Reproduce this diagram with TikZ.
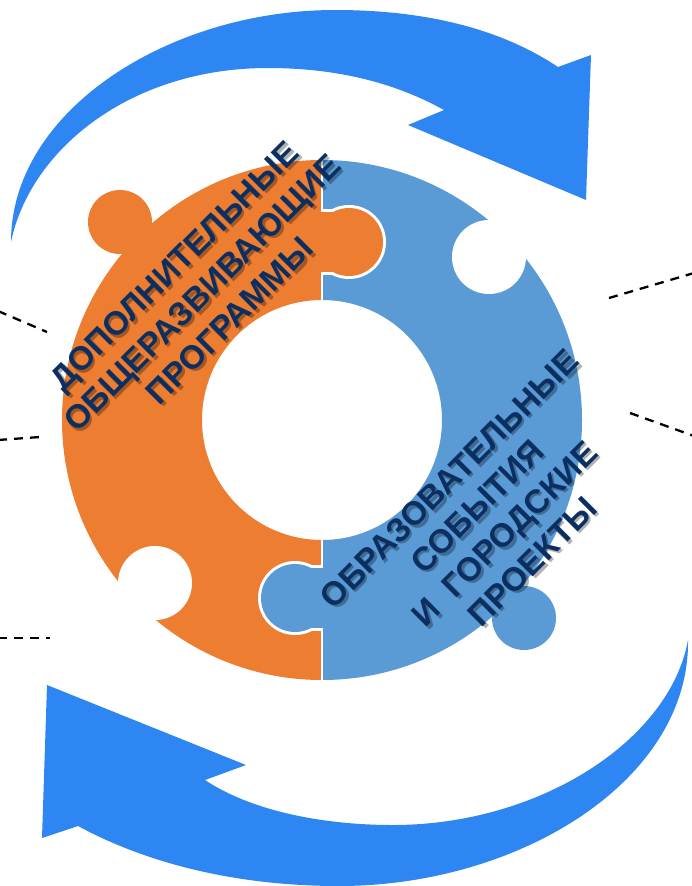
\documentclass[tikz,border=0pt]{standalone}
\usepackage{fontspec}
\setmainfont{Liberation Sans}
\definecolor{orng}{RGB}{237,125,49}
\definecolor{ringblue}{RGB}{91,155,213}
\definecolor{arrowblue}{RGB}{46,134,242}
\definecolor{navy}{RGB}{12,47,98}
\begin{document}
\begin{tikzpicture}[x=1pt,y=-1pt,
  lbl/.style={font=\fontsize{33}{39}\selectfont\bfseries, text=navy, align=center, rotate=45, inner sep=0pt},
  shadowlbl/.style={lbl, text=black, text opacity=0.3},
  dashline/.style={draw=black, line width=2.3pt, dash pattern=on 9pt off 7pt},
  bigarrow/.style={fill=arrowblue}]
\useasboundingbox (0,0) rectangle (692,886);
\coordinate (C) at (322,420);

% ---- top curved arrow ----
\fill[bigarrow] (11,242) .. controls (11,110) and (170,10) .. (335,10)
  .. controls (440,10) and (510,35) .. (558,67)
  -- (591,55) -- (586,200) -- (408,125) -- (444,110)
  .. controls (390,80) and (330,68) .. (268,68)
  .. controls (130,68) and (30,150) .. (11,242) -- cycle;

% ---- bottom curved arrow ----
\fill[bigarrow] (688,640) .. controls (690,780) and (520,886) .. (339,886)
  .. controls (240,886) and (150,865) .. (78,826)
  -- (42,838) -- (47,685) -- (246,765) -- (205,780)
  .. controls (250,810) and (320,825) .. (393,825)
  .. controls (540,825) and (670,740) .. (688,640) -- cycle;

% ---- dashed connectors ----
\coordinate (d1a) at (-2,311); \coordinate (d1b) at (47,332);
\coordinate (d2a) at (-2,440); \coordinate (d2b) at (40,437);
\coordinate (d3a) at (-2,638); \coordinate (d3b) at (50,638);
\coordinate (d4a) at (609,298); \coordinate (d4b) at (694,273);
\coordinate (d5a) at (630,413); \coordinate (d5b) at (694,436);
\draw[dashline] (d1a) -- (d1b);
\draw[dashline] (d2a) -- (d2b);
\draw[dashline] (d3a) -- (d3b);
\draw[dashline] (d4a) -- (d4b);
\draw[dashline] (d5a) -- (d5b);

% ---- puzzle ring ----
\begin{scope}
  \clip (0,0) rectangle (322,886);
  \fill[orng, even odd rule] (C) circle[radius=260pt] (C) circle[radius=120pt];
\end{scope}
\begin{scope}
  \clip (322,0) rectangle (692,886);
  \fill[ringblue, even odd rule] (C) circle[radius=260pt] (C) circle[radius=120pt];
\end{scope}
\fill[orng] (120,222) circle[radius=32pt];
\fill[ringblue] (524,618) circle[radius=32pt];
\fill[white] (489,257) circle[radius=37pt];
\fill[white] (155,583) circle[radius=37pt];
\draw[white, line width=2.5pt] (322,150) -- (322,305);
\draw[white, line width=2.5pt] (322,535) -- (322,690);

% orange knob into blue
\begin{scope}
  \clip (322,0) rectangle (692,886);
  \fill[white] (349,242) circle[radius=37pt];
  \fill[white] (318,209) rectangle (349,275);
\end{scope}
\fill[orng] (349,242) circle[radius=34pt];
\fill[orng] (318,212) rectangle (349,272);

% blue knob into orange
\begin{scope}
  \clip (0,0) rectangle (322,886);
  \fill[white] (295,598) circle[radius=37pt];
  \fill[white] (295,565) rectangle (326,631);
\end{scope}
\fill[ringblue] (295,598) circle[radius=34pt];
\fill[ringblue] (295,568) rectangle (326,628);

% ---- labels ----
\node[shadowlbl] (t1s) at (204.5,295.5) {ДОПОЛНИТЕЛЬНЫЕ\\ОБЩЕРАЗВИВАЮЩИЕ\\ПРОГРАММЫ};
\node[lbl] (t1) at (202,293) {ДОПОЛНИТЕЛЬНЫЕ\\ОБЩЕРАЗВИВАЮЩИЕ\\ПРОГРАММЫ};
\node[shadowlbl] (t2s) at (493.5,522.5) {ОБРАЗОВАТЕЛЬНЫЕ\\СОБЫТИЯ\\И~~ГОРОДСКИЕ\\ПРОЕКТЫ};
\node[lbl] (t2) at (491,520) {ОБРАЗОВАТЕЛЬНЫЕ\\СОБЫТИЯ\\И~~ГОРОДСКИЕ\\ПРОЕКТЫ};
\end{tikzpicture}
\end{document}
